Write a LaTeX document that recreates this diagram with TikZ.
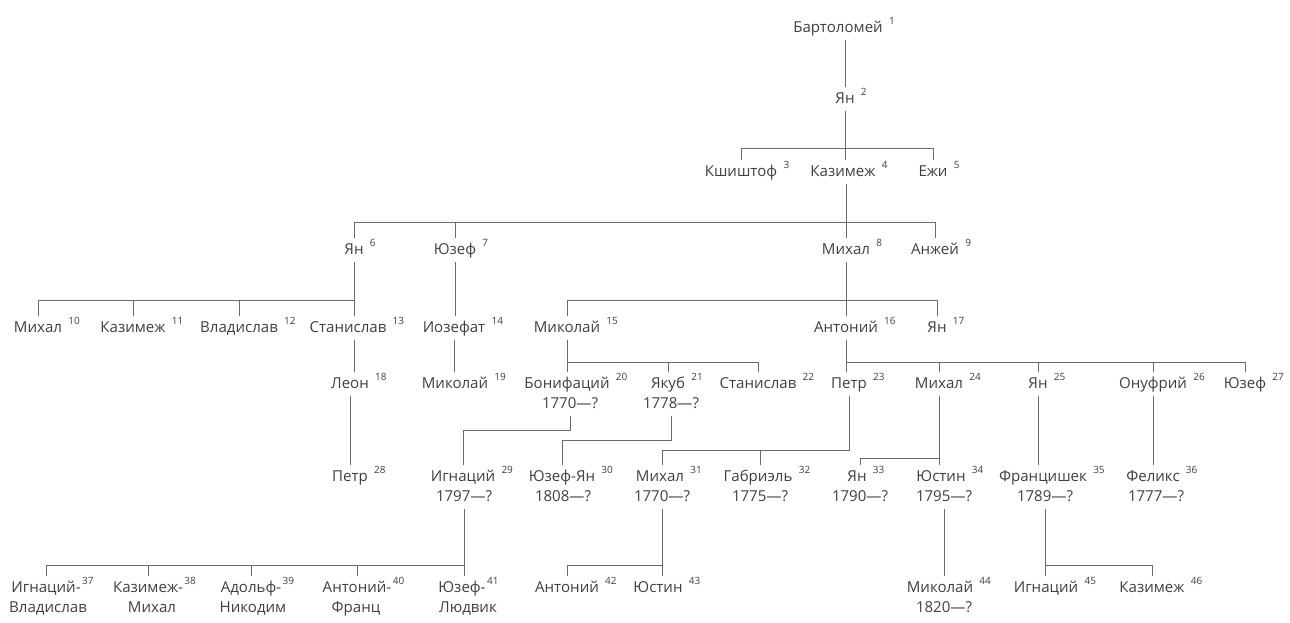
\documentclass[tikz,border=0pt]{standalone}
\usepackage{fontspec}
\setmainfont{Open Sans}
\definecolor{txt}{HTML}{404040}
\definecolor{lin}{HTML}{6A6A6A}
\newcommand\sn[1]{\rlap{\hspace{0.42em}\raisebox{0.9ex}{\fontsize{7.5}{8}\selectfont #1}}}
\newcommand\snh[1]{\rlap{\hspace{0.1em}\raisebox{0.9ex}{\fontsize{7.5}{8}\selectfont #1}}}
\begin{document}
\begin{tikzpicture}[x={(0.75pt,0)}, y={(0,-0.75pt)},
  p/.style={anchor=base, inner xsep=0pt, inner ysep=3pt, text height=9pt, text depth=2.5pt,
            font=\fontsize{11.3}{13}\selectfont, text=txt},
  ln/.style={draw=lin, line width=0.75pt}]
\path[use as bounding box, fill=white] (0,0) rectangle (1290,622);
% bar levels
\coordinate (y148) at (0,148);
\coordinate (y222) at (0,222);
\coordinate (y300) at (0,300);
\coordinate (y362) at (0,362);
\coordinate (y430) at (0,430);
\coordinate (y440) at (0,440);
\coordinate (y450) at (0,450);
\coordinate (y458) at (0,458);
\coordinate (y565) at (0,565);
% row 1-2
\node[p] (b1) at (838,32) {Бартоломей\sn{1}};
\node[p] (j2) at (845,103) {Ян\sn{2}};
% row 3
\node[p] (k3) at (741,176) {Кшиштоф\sn{3}};
\node[p] (k4) at (843,176) {Казимеж\sn{4}};
\node[p] (e5) at (933,176) {Ежи\sn{5}};
% row 4
\node[p] (j6) at (354,254) {Ян\sn{6}};
\node[p] (j7) at (455,254) {Юзеф\sn{7}};
\node[p] (m8) at (846,254) {Михал\sn{8}};
\node[p] (a9) at (935,254) {Анжей\sn{9}};
% row 5
\node[p] (m10) at (38,332) {Михал\sn{10}};
\node[p] (k11) at (133,332) {Казимеж\sn{11}};
\node[p] (v12) at (239,332) {Владислав\sn{12}};
\node[p] (s13) at (348,332) {Станислав\sn{13}};
\node[p] (i14) at (454,332) {Иозефат\sn{14}};
\node[p] (m15) at (567,332) {Миколай\sn{15}};
\node[p] (a16) at (846,332) {Антоний\sn{16}};
\node[p] (j17) at (937,332) {Ян\sn{17}};
% row 6
\node[p] (l18) at (350,388) {Леон\sn{18}};
\node[p] (m19) at (455,388) {Миколай\sn{19}};
\node[p] (b20) at (567,388) {Бонифаций\sn{20}};
\node[p] (d20) at (570,408) {1770—?};
\node[p] (y21) at (668,388) {Якуб\sn{21}};
\node[p] (d21) at (671,408) {1778—?};
\node[p] (s22) at (758,388) {Станислав\sn{22}};
\node[p] (p23) at (849,388) {Петр\sn{23}};
\node[p] (m24) at (939,388) {Михал\sn{24}};
\node[p] (j25) at (1038,388) {Ян\sn{25}};
\node[p] (o26) at (1153,388) {Онуфрий\sn{26}};
\node[p] (j27) at (1245,388) {Юзеф\sn{27}};
% row 7
\node[p] (p28) at (350,481) {Петр\sn{28}};
\node[p] (i29) at (463,481) {Игнаций\sn{29}};
\node[p] (d29) at (464,501) {1797—?};
\node[p] (j30) at (562,481) {Юзеф-Ян\sn{30}};
\node[p] (d30) at (563,501) {1808—?};
\node[p] (m31) at (660,481) {Михал\sn{31}};
\node[p] (d31) at (662,501) {1770—?};
\node[p] (g32) at (758,481) {Габриэль\sn{32}};
\node[p] (d32) at (760,501) {1775—?};
\node[p] (j33) at (857,481) {Ян\sn{33}};
\node[p] (d33) at (860,501) {1790—?};
\node[p] (j34) at (941,481) {Юстин\sn{34}};
\node[p] (d34) at (944,501) {1795—?};
\node[p] (f35) at (1043,481) {Францишек\sn{35}};
\node[p] (d35) at (1045,501) {1789—?};
\node[p] (f36) at (1153,481) {Феликс\sn{36}};
\node[p] (d36) at (1156,501) {1777—?};
% row 8
\node[p] (i37) at (46,592) {Игнаций-\snh{37}};
\node[p] (n37) at (48,612) {Владислав};
\node[p] (k38) at (148,592) {Казимеж-\snh{38}};
\node[p] (n38) at (152,612) {Михал};
\node[p] (a39) at (251,592) {Адольф-\snh{39}};
\node[p] (n39) at (253,612) {Никодим};
\node[p] (a40) at (357,592) {Антоний-\snh{40}};
\node[p] (n40) at (356,612) {Франц};
\node[p] (j41) at (462,592) {Юзеф-\snh{41}};
\node[p] (n41) at (468,612) {Людвик};
\node[p] (a42) at (567,592) {Антоний\sn{42}};
\node[p] (j43) at (658,592) {Юстин\sn{43}};
\node[p] (m44) at (940,592) {Миколай\sn{44}};
\node[p] (d44) at (944,612) {1820—?};
\node[p] (i45) at (1046,592) {Игнаций\sn{45}};
\node[p] (k46) at (1152,592) {Казимеж\sn{46}};
% connectors
\draw[ln] (j2 |- b1.south) -- (j2.north);
\draw[ln] (j2.south) -- (j2.south |- k4.north);
\draw[ln] (k3.north) -- (k3.north |- y148) -- (e5.north |- y148) -- (e5.north);
\draw[ln] (m8 |- k4.south) -- (m8.north);
\draw[ln] (j6.north) -- (j6.north |- y222) -- (a9.north |- y222) -- (a9.north);
\draw[ln] (j7.north) -- (j7.north |- y222);
\draw[ln] (j6.south) -- (j6.south |- s13.north);
\draw[ln] (m10.north) -- (m10.north |- y300) -- (j6 |- y300);
\draw[ln] (k11.north) -- (k11.north |- y300);
\draw[ln] (v12.north) -- (v12.north |- y300);
\draw[ln] (j7.south) -- (j7.south |- i14.north);
\draw[ln] (m8.south) -- (m8.south |- a16.north);
\draw[ln] (m15.north) -- (m15.north |- y300) -- (j17.north |- y300) -- (j17.north);
\draw[ln] (j6 |- s13.south) -- (j6 |- l18.north);
\draw[ln] (i14.south) -- (i14.south |- m19.north);
\draw[ln] (m15.south) -- (m15.south |- b20.north);
\draw[ln] (m15 |- y362) -- (s22.north |- y362) -- (s22.north);
\draw[ln] (y21.north) -- (y21.north |- y362);
\draw[ln] (a16.south) -- (a16.south |- p23.north);
\draw[ln] (a16 |- y362) -- (j27.north |- y362) -- (j27.north);
\draw[ln] (m24.north) -- (m24.north |- y362);
\draw[ln] (j25.north) -- (j25.north |- y362);
\draw[ln] (o26.north) -- (o26.north |- y362);
\draw[ln] (l18.south) -- (l18.south |- p28.north);
\draw[ln] (d20.south) -- (d20.south |- y430) -- (i29.north |- y430) -- (i29.north);
\draw[ln] (d21.south) -- (d21.south |- y440) -- (j30.north |- y440) -- (j30.north);
\draw[ln] (p23.south) -- (p23.south |- y450) -- (d31.north |- y450) -- (d31 |- m31.north);
\draw[ln] (d32 |- g32.north) -- (d32 |- y450);
\draw[ln] (m24.south) -- (m24.south |- j34.north);
\draw[ln] (d33 |- j33.north) -- (d33 |- y458) -- (m24 |- y458);
\draw[ln] (j25.south) -- (j25.south |- f35.north);
\draw[ln] (o26.south) -- (o26.south |- f36.north);
\draw[ln] (d29.south) -- (d29.south |- j41.north);
\draw[ln] (i37.north) -- (i37.north |- y565) -- (d29 |- y565);
\draw[ln] (k38.north) -- (k38.north |- y565);
\draw[ln] (a39.north) -- (a39.north |- y565);
\draw[ln] (a40.north) -- (a40.north |- y565);
\draw[ln] (d31.south) -- (d31.south |- j43.north);
\draw[ln] (a42.north) -- (a42.north |- y565) -- (d31 |- y565);
\draw[ln] (d34.south) -- (d34.south |- m44.north);
\draw[ln] (d35.south) -- (d35.south |- i45.north);
\draw[ln] (d35 |- y565) -- (k46.north |- y565) -- (k46.north);
\end{tikzpicture}
\end{document}
